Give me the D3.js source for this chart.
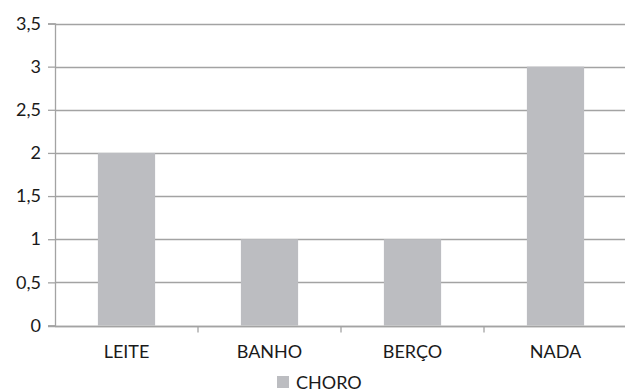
<!DOCTYPE html>
<html>
<head>
<meta charset="utf-8">
<script src="https://cdn.jsdelivr.net/npm/d3@7"></script>
<style>
  html, body { margin: 0; padding: 0; background: #fff; }
  svg { display: block; }
  text { font-family: Lato, "Open Sans", sans-serif; fill: #1a1a1a; }
</style>
</head>
<body>
<div id="chart"></div>
<script>
// Chart data
const categories = ["LEITE", "BANHO", "BERÇO", "NADA"];
const seriesName = "CHORO";
const values = [2, 1, 1, 3];
const yTicks = [0, 0.5, 1, 1.5, 2, 2.5, 3, 3.5];

const width = 625, height = 391;
const margin = { left: 55, right: -2, top: 23.5, bottom: 65.5 };
const gridColor = "#a3a3a3";
const barColor = "#bcbdc1";
const fontSize = 18;

const svg = d3.select("#chart").append("svg")
  .attr("width", width).attr("height", height);

const x = d3.scaleBand()
  .domain(categories)
  .range([margin.left, width - margin.right])
  .paddingInner(0.6).paddingOuter(0.3);

const y = d3.scaleLinear()
  .domain([0, 3.5])
  .range([height - margin.bottom, margin.top]);

const fmt = d => String(d).replace(".", ",");

// horizontal gridlines
svg.append("g").selectAll("line")
  .data(yTicks)
  .join("line")
  .attr("x1", margin.left).attr("x2", width)
  .attr("y1", d => Math.round(y(d)) + 0.5).attr("y2", d => Math.round(y(d)) + 0.5)
  .attr("stroke", gridColor).attr("stroke-width", 1.3);

// bars
svg.append("g").selectAll("rect")
  .data(values)
  .join("rect")
  .attr("x", (d, i) => x(categories[i]))
  .attr("width", x.bandwidth())
  .attr("y", d => y(d))
  .attr("height", d => y(0) - y(d))
  .attr("fill", barColor);

// y axis
const yAxis = svg.append("g")
  .attr("transform", `translate(${margin.left},0)`)
  .call(d3.axisLeft(y).tickValues(yTicks).tickFormat(fmt).tickSize(7).tickPadding(7));
yAxis.select(".domain").attr("stroke", gridColor).attr("stroke-width", 1.3);
yAxis.selectAll(".tick line").attr("stroke", gridColor).attr("stroke-width", 1.3);
yAxis.selectAll("text").attr("font-size", fontSize).attr("fill", "#1a1a1a")
  .attr("font-family", "Lato, 'Open Sans', sans-serif");

// x axis with category boundary ticks
const xAxisG = svg.append("g")
  .attr("transform", `translate(0,${Math.round(y(0)) + 0.5})`);
xAxisG.append("line")
  .attr("x1", margin.left - 7).attr("x2", width)
  .attr("stroke", gridColor).attr("stroke-width", 1.3);
const bounds = d3.range(categories.length + 1).map(i => margin.left + i * (width - margin.right - margin.left) / categories.length);
xAxisG.selectAll("line.sep")
  .data(bounds.slice(1))
  .join("line").attr("class", "sep")
  .attr("x1", d => d).attr("x2", d => d)
  .attr("y1", 0).attr("y2", 6)
  .attr("stroke", gridColor).attr("stroke-width", 1.3);
xAxisG.selectAll("text")
  .data(categories)
  .join("text")
  .attr("x", d => x(d) + x.bandwidth() / 2)
  .attr("y", 31)
  .attr("text-anchor", "middle")
  .attr("font-size", fontSize)
  .text(d => d);

// legend
const legend = svg.append("g").attr("transform", "translate(277,376)");
legend.append("rect").attr("width", 12).attr("height", 12).attr("fill", barColor);
legend.append("text").attr("x", 19).attr("y", 12.5).attr("font-size", fontSize).text(seriesName);
</script>
</body>
</html>
